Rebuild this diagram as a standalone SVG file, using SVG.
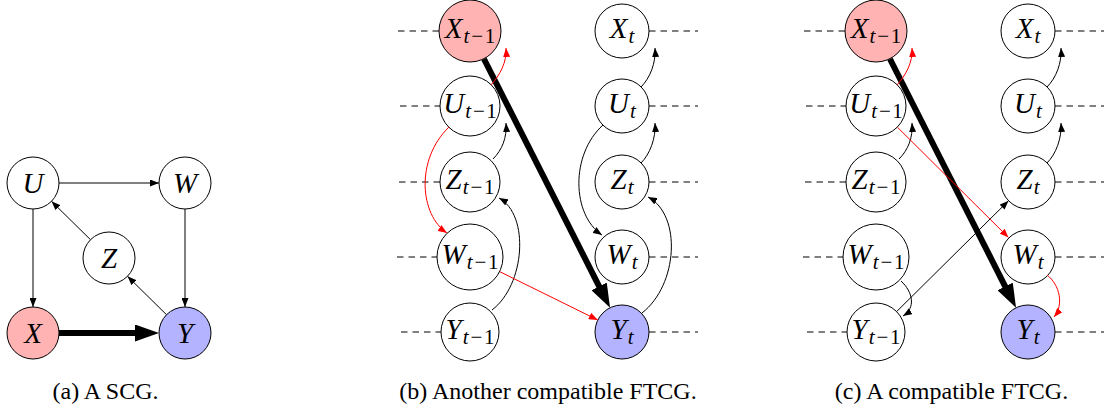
<svg xmlns="http://www.w3.org/2000/svg" width="1105" height="408" viewBox="0 0 1105 408">
<style>
.n{stroke:#000;stroke-width:1;fill:#fff}
.nx{fill:#ffb3b3}
.ny{fill:#b3b3ff}
.lbl{font-family:"Liberation Serif","Times New Roman",serif;font-style:italic;font-size:29px;text-anchor:middle;fill:#000}
.la{font-size:29px}
.sub{font-size:21px}
.up{font-style:normal}
.cap{font-family:"Liberation Serif","Times New Roman",serif;font-size:24px;text-anchor:middle;fill:#000}
.e{fill:none;stroke:#000;stroke-width:1}
.r{stroke:#f00}
.thick{fill:none;stroke:#000;stroke-width:6}
.dash{fill:none;stroke:#000;stroke-width:1;stroke-dasharray:6.5 5}
</style>
<defs>
<marker id="ah" markerUnits="userSpaceOnUse" markerWidth="9" markerHeight="7" viewBox="0 0 9 7" refX="9" refY="3.5" orient="auto"><path d="M0,0 L9,3.5 L0,7 z" fill="#000"/></marker>
<marker id="ahr" markerUnits="userSpaceOnUse" markerWidth="9" markerHeight="7" viewBox="0 0 9 7" refX="9" refY="3.5" orient="auto"><path d="M0,0 L9,3.5 L0,7 z" fill="#f00"/></marker>
<marker id="big" markerUnits="userSpaceOnUse" markerWidth="24" markerHeight="17" viewBox="0 0 24 17" refX="6" refY="8.5" orient="auto"><path d="M0,0 L24,8.5 L0,17 z" fill="#000"/></marker>
</defs>

<g id="timelines">
<path class="dash" d="M398,31 H439 M400,106 H440 M399,182 H440 M397,257 H437 M401,332 H441"/>
<path class="dash" d="M649,31 H698 M649,106 H698 M649,182 H698 M649,257 H698 M649,332 H698"/>
<path class="dash" d="M804,31 H845 M806,106 H846 M805,182 H846 M803,257 H843 M807,332 H847"/>
<path class="dash" d="M1055,31 H1104 M1055,106 H1104 M1055,182 H1104 M1055,257 H1104 M1055,332 H1104"/>
</g>

<!-- Panel (a) nodes -->
<g id="a-U"><circle class="n" cx="33" cy="183" r="26"/><text class="lbl la" x="33" y="193">U</text></g>
<g id="a-W"><circle class="n" cx="185" cy="183" r="26"/><text class="lbl la" x="185" y="193">W</text></g>
<g id="a-Z"><circle class="n" cx="109" cy="258" r="26"/><text class="lbl la" x="109" y="268">Z</text></g>
<g id="a-X"><circle class="n nx" cx="33" cy="333" r="26"/><text class="lbl la" x="33" y="343">X</text></g>
<g id="a-Y"><circle class="n ny" cx="185" cy="333" r="26"/><text class="lbl la" x="185" y="343">Y</text></g>

<!-- Panel (b) nodes -->
<g id="b-Xt1"><circle class="n nx" cx="470" cy="31" r="31"/><text class="lbl" x="470" y="38">X<tspan class="sub" dy="4.5" dx="1">t</tspan><tspan class="sub up" dx="2">−</tspan><tspan class="sub up" dx="1.5">1</tspan></text></g>
<g id="b-Ut1"><circle class="n" cx="470" cy="106" r="30"/><text class="lbl" x="470" y="113">U<tspan class="sub" dy="4.5" dx="1">t</tspan><tspan class="sub up" dx="2">−</tspan><tspan class="sub up" dx="1.5">1</tspan></text></g>
<g id="b-Zt1"><circle class="n" cx="470" cy="182" r="30"/><text class="lbl" x="470" y="189">Z<tspan class="sub" dy="4.5" dx="1">t</tspan><tspan class="sub up" dx="2">−</tspan><tspan class="sub up" dx="1.5">1</tspan></text></g>
<g id="b-Wt1"><circle class="n" cx="470" cy="257" r="33"/><text class="lbl" x="470" y="264">W<tspan class="sub" dy="4.5" dx="1">t</tspan><tspan class="sub up" dx="2">−</tspan><tspan class="sub up" dx="1.5">1</tspan></text></g>
<g id="b-Yt1"><circle class="n" cx="470" cy="332" r="29"/><text class="lbl" x="470" y="339">Y<tspan class="sub" dy="4.5" dx="1">t</tspan><tspan class="sub up" dx="2">−</tspan><tspan class="sub up" dx="1.5">1</tspan></text></g>
<g id="b-Xt"><circle class="n" cx="622" cy="31" r="27"/><text class="lbl" x="622" y="38">X<tspan class="sub" dy="4.5" dx="1">t</tspan></text></g>
<g id="b-Ut"><circle class="n" cx="622" cy="106" r="27"/><text class="lbl" x="622" y="113">U<tspan class="sub" dy="4.5" dx="1">t</tspan></text></g>
<g id="b-Zt"><circle class="n" cx="622" cy="182" r="27"/><text class="lbl" x="622" y="189">Z<tspan class="sub" dy="4.5" dx="1">t</tspan></text></g>
<g id="b-Wt"><circle class="n" cx="622" cy="257" r="27"/><text class="lbl" x="622" y="264">W<tspan class="sub" dy="4.5" dx="1">t</tspan></text></g>
<g id="b-Yt"><circle class="n ny" cx="622" cy="332" r="27"/><text class="lbl" x="622" y="339">Y<tspan class="sub" dy="4.5" dx="1">t</tspan></text></g>

<!-- Panel (c) nodes -->
<g id="c-Xt1"><circle class="n nx" cx="876" cy="31" r="31"/><text class="lbl" x="876" y="38">X<tspan class="sub" dy="4.5" dx="1">t</tspan><tspan class="sub up" dx="2">−</tspan><tspan class="sub up" dx="1.5">1</tspan></text></g>
<g id="c-Ut1"><circle class="n" cx="876" cy="106" r="30"/><text class="lbl" x="876" y="113">U<tspan class="sub" dy="4.5" dx="1">t</tspan><tspan class="sub up" dx="2">−</tspan><tspan class="sub up" dx="1.5">1</tspan></text></g>
<g id="c-Zt1"><circle class="n" cx="876" cy="182" r="30"/><text class="lbl" x="876" y="189">Z<tspan class="sub" dy="4.5" dx="1">t</tspan><tspan class="sub up" dx="2">−</tspan><tspan class="sub up" dx="1.5">1</tspan></text></g>
<g id="c-Wt1"><circle class="n" cx="876" cy="257" r="33"/><text class="lbl" x="876" y="264">W<tspan class="sub" dy="4.5" dx="1">t</tspan><tspan class="sub up" dx="2">−</tspan><tspan class="sub up" dx="1.5">1</tspan></text></g>
<g id="c-Yt1"><circle class="n" cx="876" cy="332" r="29"/><text class="lbl" x="876" y="339">Y<tspan class="sub" dy="4.5" dx="1">t</tspan><tspan class="sub up" dx="2">−</tspan><tspan class="sub up" dx="1.5">1</tspan></text></g>
<g id="c-Xt"><circle class="n" cx="1028" cy="31" r="27"/><text class="lbl" x="1028" y="38">X<tspan class="sub" dy="4.5" dx="1">t</tspan></text></g>
<g id="c-Ut"><circle class="n" cx="1028" cy="106" r="27"/><text class="lbl" x="1028" y="113">U<tspan class="sub" dy="4.5" dx="1">t</tspan></text></g>
<g id="c-Zt"><circle class="n" cx="1028" cy="182" r="27"/><text class="lbl" x="1028" y="189">Z<tspan class="sub" dy="4.5" dx="1">t</tspan></text></g>
<g id="c-Wt"><circle class="n" cx="1028" cy="257" r="27"/><text class="lbl" x="1028" y="264">W<tspan class="sub" dy="4.5" dx="1">t</tspan></text></g>
<g id="c-Yt"><circle class="n ny" cx="1028" cy="332" r="27"/><text class="lbl" x="1028" y="339">Y<tspan class="sub" dy="4.5" dx="1">t</tspan></text></g>

<g id="connectors">
<!-- (a) -->
<path class="e" d="M59,183 H159" marker-end="url(#ah)"/>
<path class="e" d="M33,209 V307" marker-end="url(#ah)"/>
<path class="e" d="M185,209 V307" marker-end="url(#ah)"/>
<path class="e" d="M90.5,239.7 L51.5,201.3" marker-end="url(#ah)"/>
<path class="e" d="M166.5,314.7 L127.5,276.3" marker-end="url(#ah)"/>
<path class="thick" d="M59,333 H141" stroke-width="5.5" marker-end="url(#big)"/>
<!-- (b) -->
<path class="thick" d="M484,59 L601.9,291.8" marker-end="url(#big)"/>
<path class="e r" d="M491,85 C500,75 507,62 506,48" marker-end="url(#ahr)"/>
<path class="e" d="M493,159 C502,150 507,138 506,123" marker-end="url(#ah)"/>
<path class="e r" d="M449,127 C415,160 420,215 447,233" marker-end="url(#ahr)"/>
<path class="e" d="M492,310 C525,285 530,215 499,198" marker-end="url(#ah)"/>
<path class="e r" d="M499.6,271.6 L597.8,320" marker-end="url(#ahr)"/>
<path class="e" d="M641,87 C650,78 656,63 655,48" marker-end="url(#ah)"/>
<path class="e" d="M641,163 C650,154 656,138 655,123" marker-end="url(#ah)"/>
<path class="e" d="M603,125 C570,155 572,215 602,235" marker-end="url(#ah)"/>
<path class="e" d="M642,313 C678,285 682,215 648,197" marker-end="url(#ah)"/>
<!-- (c) -->
<path class="thick" d="M890,59 L1007.9,291.8" marker-end="url(#big)"/>
<path class="e r" d="M897,85 C906,75 913,62 912,48" marker-end="url(#ahr)"/>
<path class="e" d="M899,159 C908,150 913,138 912,123" marker-end="url(#ah)"/>
<path class="e r" d="M897.3,127.1 L1008.5,237.5" marker-end="url(#ahr)"/>
<path class="e" d="M901,281 C913,292 916,308 903,316" marker-end="url(#ah)"/>
<path class="e" d="M896.6,311.6 L1008.5,200.8" marker-end="url(#ah)"/>
<path class="e r" d="M1047,275 C1060,285 1064,305 1054,317" marker-end="url(#ahr)"/>
<path class="e" d="M1047,87 C1056,78 1062,63 1061,48" marker-end="url(#ah)"/>
<path class="e" d="M1047,163 C1056,154 1062,138 1061,123" marker-end="url(#ah)"/>
</g>

<g id="captions">
<text class="cap" x="105.5" y="399">(a) A SCG.</text>
<text class="cap" x="548" y="399">(b) Another compatible FTCG.</text>
<text class="cap" x="951.5" y="399">(c) A compatible FTCG.</text>
</g>
</svg>
